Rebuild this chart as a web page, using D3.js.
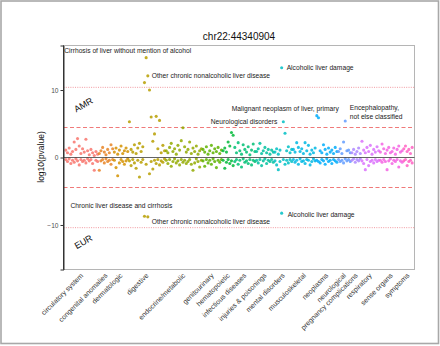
<!DOCTYPE html>
<html><head><meta charset="utf-8">
<script src="https://cdn.jsdelivr.net/npm/d3@7"></script>
<style>body{margin:0;background:#fff}svg{display:block;font-family:"Liberation Sans",Arial,Helvetica,sans-serif}</style>
</head><body><svg id="c" width="440" height="346"></svg>
<script>
// ---------------- DATA ----------------
const title = "chr22:44340904";
const yLabel = "log10(pvalue)";
const yTicks = [-10, 0, 10];
const dottedLines = [10.4, -10.4];
const dashedLines = [4.45, -4.45];
const popLabels = ["AMR", "EUR"];

const categories = ["circulatory system","congenital anomalies","dermatologic","digestive","endocrine/metabolic","genitourinary","hematopoietic","infectious diseases","injuries & poisonings","mental disorders","musculoskeletal","neoplasms","neurological","pregnancy complications","respiratory","sense organs","symptoms"];

// AMR (plotted upward) and EUR (plotted downward) signed log10(p) per phenotype
const amr_circulatory = [1.1,0.7,1.4,0.5,0.9,2.3,1.2,2.8,1.7,0.6,1.3,0.8,2.7,1.0,0.4,1.2,0.7,0.3,0.9,0.5];
const eur_circulatory = [-0.3,-0.6,-0.2,-0.9,-0.4,-0.7,-0.2,-0.5,-1.1,-0.3,-0.6,-0.4,-0.8,-0.2,-0.5,-0.3,-0.9,-1.9,-0.4,-0.6];
const amr_congenital = [0.6,1.0,1.5,0.8,0.4,1.2,0.7,1.9,1.3];
const eur_congenital = [-1.9,-0.5,-0.3,-0.8,-0.2,-0.6,-0.4,-1.0,-0.3];
const amr_dermatologic = [0.8,1.4,0.5,1.1,1.7,0.6,1.0,1.4,0.9];
const eur_dermatologic = [-0.4,-1.5,-2.7,-0.8,-0.3,-0.6,-1.0,-0.5,-0.2];
const amr_digestive = [5.3,1.2,0.8,1.9,0.6,1.4,2.1,0.9,1.6,11.1,14.8,12.1,10.0,6.0,2.4,3.5,6.1,1.3,5.5,0.7,1.8,1.0];
const eur_digestive = [-0.5,-1.2,-0.3,-0.8,-1.6,-0.4,-2.9,-0.7,-0.3,-8.7,-1.0,-8.8,-2.4,-0.6,-1.7,-0.4,-0.9,-0.3,-1.1,-0.5,-0.7,-0.2];
const amr_endocrine = [1.0,0.7,1.5,2.1,0.9,1.3,0.5,1.8,1.1,2.5,4.4,1.6,0.8,1.2,2.3,0.6,1.4,0.9,1.7,0.5,1.0,1.3];
const eur_endocrine = [-0.4,-0.9,-0.3,-1.3,-0.6,-0.2,-0.8,-0.5,-1.1,-0.3,-0.7,-0.4,-0.9,-0.6,-0.3,-1.0,-1.9,-0.8,-0.2,-0.6,-1.4,-0.4];
const amr_genitourinary = [1.2,0.8,1.6,0.5,1.0,1.8,0.7,1.3,0.9,1.5,0.6,1.1];
const eur_genitourinary = [-0.5,-1.3,-0.3,-0.8,-0.4,-1.0,-0.2,-0.6,-1.5,-0.4,-0.7,-0.3];
const amr_hematopoietic = [1.0,1.4,0.8,2.3,1.7,3.7,3.3];
const eur_hematopoietic = [-0.4,-1.6,-0.7,-0.3,-0.9,-0.5,-1.2];
const amr_infectious = [1.5,0.7,2.2,1.0,0.5,1.9,1.2,0.8,1.6,0.4,1.1,2.0,0.9];
const eur_infectious = [-0.6,-0.3,-1.0,-0.4,-1.4,-0.2,-0.7,-0.5,-0.9,-0.3,-1.1,-0.4,-0.6];
const amr_injuries = [0.9,1.3,2.1,0.6,1.0,1.5,0.7,1.2,0.5,1.1,0.8];
const eur_injuries = [-0.4,-0.8,-0.3,-1.2,-0.5,-0.2,-0.9,-0.4,-0.6,-0.3,-0.7];
const amr_mental = [0.8,1.3,0.5,1.1,13.3,5.3,3.6,1.0,1.6,0.7,1.2];
const eur_mental = [-0.5,-1.1,-1.8,-0.6,-8.25,-0.3,-1.0,-0.4,-0.8,-0.3,-0.6];
const amr_musculoskeletal = [1.2,0.8,2.2,1.5,0.9,1.3,0.6,2.2,1.0,1.8,0.5,1.1,0.7,1.4];
const eur_musculoskeletal = [-0.3,-0.7,-0.4,-1.0,-0.2,-0.6,-0.5,-0.9,-0.3,-0.4,-1.1,-0.6,-0.2,-0.5];
const amr_neoplasms = [6.2,5.9,1.0,0.7,1.9,1.2,0.5,1.4,0.8,1.1,0.6,1.5,0.9];
const eur_neoplasms = [-0.4,-0.6,-0.8,-0.3,-0.5,-1.0,-0.2,-0.6,-0.4,-0.9,-0.3,-0.5,-0.7];
const amr_neurological = [0.9,1.3,0.6,2.3,5.4,1.0,1.1,0.7];
const eur_neurological = [-0.3,-0.6,-0.4,-0.8,-0.2,-0.5,-0.3,-0.6];
const amr_pregnancy = [0.7,1.2,0.5,0.9,1.4,0.6];
const eur_pregnancy = [-0.4,-0.2,-0.7,-0.3,-0.5,-0.2];
const amr_respiratory = [2.4,1.1,0.7,1.5,0.9,1.8,0.5,1.2,0.8,1.6,1.0];
const eur_respiratory = [-0.5,-0.9,-1.8,-0.3,-1.2,-0.6,-0.4,-0.8,-0.3,-0.6,-0.4];
const amr_sense = [0.8,2.0,1.3,0.6,1.1,1.5,0.7,0.9,1.4,0.5,1.2,1.7,0.8,1.0];
const eur_sense = [-0.4,-0.7,-0.3,-0.6,-1.8,-0.5,-0.2,-0.9,-0.4,-0.6,-0.3,-1.4,-0.5,-0.7];
const amr_symptoms = [1.3,1.7,0.9,1.2,0.6,1.5];
const eur_symptoms = [-0.5,-0.3,-1.2,-0.6,-0.4,-0.8];

// annotated phenotypes: text lines, category index, phenotype index, population
const annoText = [["Cirrhosis of liver without mention of alcohol"],["Other chronic nonalcoholic liver disease"],["Alcoholic liver damage"],["Malignant neoplasm of liver, primary"],["Encephalopathy,","not else classified"],["Neurological disorders"],["Chronic liver disease and cirrhosis"],["Other chronic nonalcoholic liver disease"],["Alcoholic liver damage"]];
const annoCat = [3,3,9,11,12,9,3,3,9];
const annoIdx = [10,11,4,0,4,5,9,11,4];
const annoPop = ["AMR","AMR","AMR","AMR","AMR","AMR","EUR","EUR","EUR"];

// ---------------- LAYOUT / STYLE ----------------
const AMR = [amr_circulatory,amr_congenital,amr_dermatologic,amr_digestive,amr_endocrine,amr_genitourinary,amr_hematopoietic,amr_infectious,amr_injuries,amr_mental,amr_musculoskeletal,amr_neoplasms,amr_neurological,amr_pregnancy,amr_respiratory,amr_sense,amr_symptoms];
const EUR = [eur_circulatory,eur_congenital,eur_dermatologic,eur_digestive,eur_endocrine,eur_genitourinary,eur_hematopoietic,eur_infectious,eur_injuries,eur_mental,eur_musculoskeletal,eur_neoplasms,eur_neurological,eur_pregnancy,eur_respiratory,eur_sense,eur_symptoms];
// label offsets relative to anchor point (layout, not data)
const annoOffset = [[-82,-4.5,"start"],[4,2.5,"start"],[5,2.5,"start"],[-85,-4.8,"start"],[4.5,-11,"start"],[-6,2.4,"end"],[-74,-8,"start"],[4,7,"start"],[6,3.5,"start"]];

// ggplot2-style hue palette (polarLUV -> sRGB)
function hclColor(h, c, l){
  const WY=100, Wu=0.1978398, Wv=0.4683363;
  const hr=h*Math.PI/180, U=c*Math.cos(hr), V=c*Math.sin(hr);
  const Y = WY*(l>7.999592 ? Math.pow((l+16)/116,3) : l/903.3);
  const u = U/(13*l)+Wu, v = V/(13*l)+Wv;
  const X = 9*Y*u/(4*v);
  const Z = -X/3 - 5*Y + 3*Y/v;
  const g = t => { t = t>0.00304 ? 1.055*Math.pow(t,1/2.4)-0.055 : 12.92*t; return Math.round(255*Math.max(0,Math.min(1,t))); };
  const r = g((3.240479*X-1.537150*Y-0.498535*Z)/WY);
  const gg = g((-0.969256*X+1.875992*Y+0.041556*Z)/WY);
  const b = g((0.055648*X-0.204043*Y+1.057311*Z)/WY);
  return d3.rgb(r,gg,b).formatHex();
}
const nCat = categories.length;
const hues = d3.range(nCat).map(i => 15 + i*360/(nCat+1));
const colors = hues.map(h => hclColor(h,100,65));

const svg = d3.select("#c");
const P = {l:63.5, r:414.5, t:45.5, b:269.5};

// outer frame
svg.append("rect").attr("x",1).attr("y",1).attr("width",437.5).attr("height",342.5)
  .attr("fill","#fff").attr("stroke","#a8a8a8").attr("stroke-width",1.6);

// build points
const pts = []; const ranges = []; let n = 0;
AMR.forEach((arr, ci) => {
  const s = n;
  arr.forEach((v, i) => {
    pts.push({ci, k:n+i, v, pop:"AMR"});
    pts.push({ci, k:n+i, v:EUR[ci][i], pop:"EUR"});
  });
  n += arr.length; ranges.push([s, n]);
});
const x = d3.scaleLinear().domain([0, n]).range([65, 413]);
const y = d3.scaleLinear().domain([-16.6, 16.6]).range([P.b, P.t]);

// panel border
svg.append("rect").attr("x",P.l).attr("y",P.t).attr("width",P.r-P.l).attr("height",P.b-P.t)
  .attr("fill","#fff").attr("stroke","#b5b5b5").attr("stroke-width",1);

// threshold lines
svg.selectAll(".dot").data(dottedLines).join("line")
  .attr("x1",P.l).attr("x2",P.r).attr("y1",d=>y(d)).attr("y2",d=>y(d))
  .attr("stroke","#ee7d86").attr("stroke-width",0.8).attr("stroke-dasharray","1,1.3");
svg.selectAll(".dash").data(dashedLines).join("line")
  .attr("x1",P.l).attr("x2",P.r).attr("y1",d=>y(d)).attr("y2",d=>y(d))
  .attr("stroke","#f07a7a").attr("stroke-width",1.1).attr("stroke-dasharray","4,2.5");

// points
svg.append("g").selectAll("circle").data(pts).join("circle")
  .attr("cx", d => x(d.k+0.5)).attr("cy", d => y(d.v)).attr("r",1.55)
  .attr("fill", d => colors[d.ci]).attr("fill-opacity",0.85);

// zero line
svg.append("line").attr("x1",P.l).attr("x2",P.r).attr("y1",y(0)).attr("y2",y(0))
  .attr("stroke","#333").attr("stroke-width",0.9).attr("stroke-opacity",0.85);

// y axis
const yAxis = d3.axisLeft(y).tickValues(yTicks).tickSize(3).tickPadding(2)
  .tickFormat(d => d<0 ? "\u2212"+Math.abs(d) : d);
const ga = svg.append("g").attr("transform",`translate(${P.l},0)`).call(yAxis);
ga.select(".domain").attr("stroke","#333").attr("stroke-width",1);
ga.selectAll(".tick line").attr("stroke","#333");
ga.selectAll(".tick text").attr("fill","#4d4d4d").style("font-size","6.6px");
// redraw left axis line full height
svg.append("line").attr("x1",P.l).attr("x2",P.l).attr("y1",P.t).attr("y2",P.b).attr("stroke","#333").attr("stroke-width",1);

// title & y label
svg.append("text").attr("x",239).attr("y",39.5).attr("text-anchor","middle")
  .style("font-size","10px").attr("fill","#111").text(title);
svg.append("text").attr("transform","translate(43.5,157) rotate(-90)").attr("text-anchor","middle")
  .style("font-size","8.5px").attr("fill","#111").text(yLabel);

// population labels
const popPos = [[85,107.5],[85,244.5]];
popLabels.forEach((t,i) => svg.append("text")
  .attr("transform",`translate(${popPos[i][0]},${popPos[i][1]}) rotate(-30)`)
  .attr("text-anchor","middle").style("font-size","9px").attr("fill","#111").text(t));

// category labels
categories.forEach((c, ci) => {
  const cx = x((ranges[ci][0]+ranges[ci][1])/2);
  svg.append("text").attr("transform",`translate(${cx+2},276) rotate(-45)`)
    .attr("text-anchor","end").style("font-size","7px").attr("fill","#333").text(c);
});

// annotations
annoText.forEach((lines, a) => {
  const ci = annoCat[a], k = ranges[ci][0] + annoIdx[a];
  const v = annoPop[a]==="AMR" ? AMR[ci][annoIdx[a]] : EUR[ci][annoIdx[a]];
  const px = x(k+0.5), py = y(v);
  const [dx, dy, anc] = annoOffset[a];
  const t = svg.append("text").attr("text-anchor",anc).style("font-size","6.7px").attr("fill","#1a1a1a");
  lines.forEach((ln, li) => t.append("tspan").attr("x",px+dx).attr("y",py+dy+li*9).text(ln));
});
</script></body></html>
